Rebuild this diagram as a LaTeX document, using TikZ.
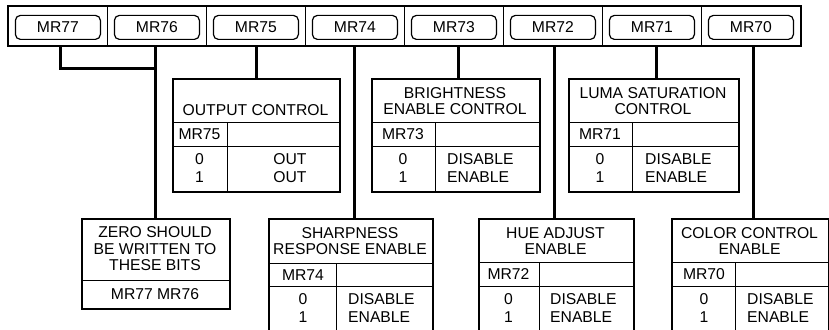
\documentclass[tikz,border=0pt]{standalone}
\usepackage{fontspec}
\setmainfont{Liberation Sans}
\newcommand{\fs}{\fontsize{15.7}{16.5}\selectfont}
\begin{document}
\begin{tikzpicture}[x=1pt,y=-1pt,
  cell/.style={draw, line width=0.8pt, minimum width=99pt, minimum height=39pt, inner sep=0pt, anchor=north west},
  pill/.style={draw, rounded corners=5pt, line width=1.2pt, minimum width=85pt, minimum height=24pt, inner sep=0pt, font=\fs},
  wire/.style={line width=3pt},
  tbox/.style={draw, line width=1.5pt, anchor=north west, inner sep=0pt},
  grid/.style={line width=1pt},
  txt/.style={font=\fs, inner sep=0pt, align=center},
  ltxt/.style={font=\fs, inner sep=0pt, align=left, anchor=west},
]
\useasboundingbox (0,0) rectangle (829,329);
\clip (0,0) rectangle (829,329);

% register bar
\foreach \i/\b in {0/77,1/76,2/75,3/74,4/73,5/72,6/71,7/70}{
  \node[cell] (cell\b) at ({8+99*\i},6) {};
  \node[pill] (pill\b) at ([yshift=-1.5pt]cell\b.center) {MR\b};
}
\draw[line width=2pt] (cell77.north west) rectangle (cell70.south east);

% ---- top tables ----
% OUTPUT CONTROL
\node[tbox, minimum width=167pt, minimum height=113pt] (b75) at (172,78) {};
\draw[grid] (172,122) -- (339,122);
\draw[grid] (172,146) -- (339,146);
\draw[grid] (227,122) -- (227,191);
\node[txt] (t75) at (255.5,110) {OUTPUT CONTROL};
\node[txt] (k75) at (199.5,134) {MR75};
\node[txt] (v75) at (199.5,168) {0\\[1.5pt]1};
\node[txt] (r75) at (290,168) {OUT\\[1.5pt]OUT};

% BRIGHTNESS
\node[tbox, minimum width=168pt, minimum height=113pt] (b73) at (371,78) {};
\draw[grid] (371,122) -- (539,122);
\draw[grid] (371,146) -- (539,146);
\draw[grid] (435,122) -- (435,191);
\node[txt] (t73) at (455,101) {BRIGHTNESS\\ENABLE CONTROL};
\node[txt] (k73) at (403,134) {MR73};
\node[txt] (v73) at (403,168) {0\\[1.5pt]1};
\node[ltxt] (r73) at (447,168) {DISABLE\\[1.5pt]ENABLE};

% LUMA SATURATION
\node[tbox, minimum width=170pt, minimum height=113pt] (b71) at (568,78) {};
\draw[grid] (568,122) -- (738,122);
\draw[grid] (568,146) -- (738,146);
\draw[grid] (632,122) -- (632,191);
\node[txt] (t71) at (653,101) {LUMA SATURATION\\CONTROL};
\node[txt] (k71) at (600,134) {MR71};
\node[txt] (v71) at (600,168) {0\\[1.5pt]1};
\node[ltxt] (r71) at (645,168) {DISABLE\\[1.5pt]ENABLE};

% ---- bottom tables ----
% ZERO
\node[tbox, minimum width=148pt, minimum height=90pt] (zero) at (81,218) {};
\draw[grid] (81,280) -- (229,280);
\node[txt] (tz) at (155,249) {ZERO SHOULD\\BE WRITTEN TO\\THESE BITS};
\node[txt] (kz) at (155,294) {MR77 MR76};

% SHARPNESS
\node[tbox, minimum width=164pt, minimum height=130pt] (b74) at (268,218) {};
\draw[grid] (268,263) -- (432,263);
\draw[grid] (268,286) -- (432,286);
\draw[grid] (336,263) -- (336,348);
\node[txt] (t74) at (350,241) {SHARPNESS\\RESPONSE ENABLE};
\node[txt] (k74) at (303,275) {MR74};
\node[txt] (v74) at (303,308) {0\\[1.5pt]1};
\node[ltxt] (r74) at (348,308) {DISABLE\\[1.5pt]ENABLE};

% HUE
\node[tbox, minimum width=155pt, minimum height=130pt] (b72) at (478,218) {};
\draw[grid] (478,262) -- (633,262);
\draw[grid] (478,286) -- (633,286);
\draw[grid] (539,262) -- (539,348);
\node[txt] (t72) at (555.5,241) {HUE ADJUST\\ENABLE};
\node[txt] (k72) at (508.5,274) {MR72};
\node[txt] (v72) at (508.5,308) {0\\[1.5pt]1};
\node[ltxt] (r72) at (550,308) {DISABLE\\[1.5pt]ENABLE};

% COLOR CONTROL
\node[tbox, minimum width=157pt, minimum height=130pt] (b70) at (671,218) {};
\draw[grid] (671,262) -- (828,262);
\draw[grid] (671,286) -- (828,286);
\draw[grid] (735,262) -- (735,348);
\node[txt] (t70) at (749.5,241) {COLOR CONTROL\\ENABLE};
\node[txt] (k70) at (704,274) {MR70};
\node[txt] (v70) at (704,308) {0\\[1.5pt]1};
\node[ltxt] (r70) at (747,308) {DISABLE\\[1.5pt]ENABLE};

% ---- connectors ----
\draw[wire] ([xshift=2.5pt]cell77.south) |- (zero.north |- 0,68);
\draw[wire] (zero.north |- cell76.south) -- (zero.north);
\draw[wire] (b75.north |- cell75.south) -- (b75.north);
\draw[wire] (cell74.south) -- (cell74.south |- b74.north);
\draw[wire] ([xshift=4.5pt]cell73.south) -- ([xshift=4.5pt]cell73.south |- b73.north);
\draw[wire] ([xshift=1.5pt]cell72.south) -- ([xshift=1.5pt]cell72.south |- b72.north);
\draw[wire] ([xshift=4.5pt]cell71.south) -- ([xshift=4.5pt]cell71.south |- b71.north);
\draw[wire] ([xshift=2.5pt]cell70.south) -- ([xshift=2.5pt]cell70.south |- b70.north);
\end{tikzpicture}
\end{document}
